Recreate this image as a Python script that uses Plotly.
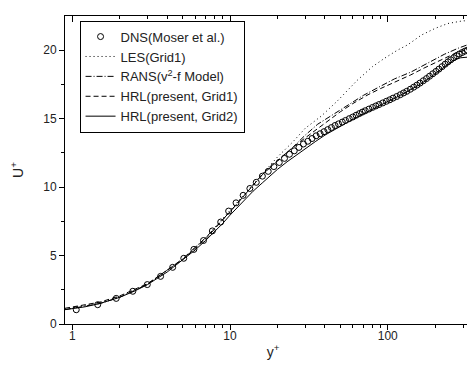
import plotly.graph_objects as go

# ---------------- data ----------------
dns_y = [1.06, 1.45, 1.90, 2.42, 2.99, 3.63, 4.33, 5.09, 5.90, 6.79, 7.73, 8.73, 9.80,
         10.92, 12.11, 13.36, 14.67, 16.04, 17.47, 18.97, 20.52, 22.14, 23.81, 25.55,
         27.35, 29.21, 31.14, 33.12, 35.16, 37.27, 39.44, 41.67, 43.96, 46.31, 48.72,
         51.5, 54, 57, 60, 63, 66, 69, 72, 76, 80, 84, 88, 93, 98, 103, 108, 114, 120,
         126, 132, 139, 146, 153, 160, 168, 176, 184, 193, 202, 211, 221, 231, 241, 251,
         262, 273, 284, 296, 308, 320, 332, 344, 356, 368, 380, 390]
dns_u = [1.04, 1.41, 1.87, 2.39, 2.88, 3.48, 4.14, 4.80, 5.45, 6.10, 6.80, 7.45, 8.25,
         8.85, 9.40, 9.90, 10.35, 10.80, 11.15, 11.50, 11.80, 12.10, 12.40, 12.65,
         12.90, 13.15, 13.35, 13.55, 13.75, 13.90, 14.05, 14.20, 14.35, 14.50, 14.62,
         14.75, 14.87, 15.00, 15.12, 15.25, 15.37, 15.48, 15.58, 15.70, 15.82, 15.93,
         16.03, 16.15, 16.27, 16.38, 16.50, 16.62, 16.75, 16.88, 17.00, 17.15, 17.30,
         17.45, 17.60, 17.77, 17.93, 18.10, 18.28, 18.45, 18.62, 18.80, 18.98, 19.15,
         19.30, 19.45, 19.60, 19.72, 19.83, 19.93, 20.01, 20.07, 20.11, 20.14, 20.16,
         20.17, 20.17]

les_y = [0.9, 1.5, 2, 3, 5, 7, 10, 13, 16, 20, 25, 30, 38, 48, 64, 80, 95, 115, 134,
         163, 200, 240, 300, 350, 390]
les_u = [1.10, 1.55, 2.00, 2.90, 4.70, 6.30, 8.30, 9.80, 11.00, 12.20, 13.30, 14.30,
         15.20, 16.30, 17.80, 18.80, 19.40, 20.00, 20.40, 21.10, 21.60, 21.95, 22.15,
         22.15, 22.10]

rans_y = [0.9, 1.5, 2, 3, 5, 7, 10, 13, 16, 20, 25, 30, 36, 45, 56, 70, 86, 110, 140,
          179, 228, 280, 330, 372, 390]
rans_u = [1.05, 1.50, 1.95, 2.90, 4.75, 6.30, 8.20, 9.75, 10.90, 11.90, 12.90, 13.80,
          14.60, 15.30, 16.00, 16.70, 17.25, 17.90, 18.40, 19.05, 19.70, 20.15, 20.45,
          20.55, 20.55]

hrl1_y = [0.9, 1.5, 2, 3, 5, 7, 10, 13, 16, 20, 25, 30, 40, 50, 60, 75, 90, 116, 140,
          170, 200, 230, 270, 310, 350, 390]
hrl1_u = [1.15, 1.60, 2.05, 2.95, 4.70, 6.20, 8.20, 9.70, 10.90, 11.95, 12.90, 13.60,
          14.70, 15.50, 16.10, 16.75, 17.20, 17.75, 18.20, 18.70, 19.10, 19.45, 19.80,
          20.00, 20.10, 20.15]

hrl2_y = [0.9, 1.2, 1.5, 2, 2.5, 3, 4, 5, 6, 7, 8, 9, 10, 12, 14, 16, 18, 20, 23, 26,
          30, 35, 40, 45, 50, 60, 70, 80, 90, 100, 120, 140, 160, 180, 200, 230, 260,
          290, 320, 350, 390]
hrl2_u = [1.05, 1.25, 1.50, 1.95, 2.42, 2.88, 3.80, 4.65, 5.40, 6.10, 6.75, 7.35, 7.95,
          8.90, 9.70, 10.30, 10.85, 11.30, 11.85, 12.30, 12.85, 13.35, 13.80, 14.15,
          14.45, 14.95, 15.35, 15.70, 16.00, 16.25, 16.70, 17.10, 17.50, 17.90, 18.30,
          18.85, 19.25, 19.45, 19.52, 19.53, 19.53]

x_major = [1, 10, 100]
x_minor = [2, 3, 4, 5, 6, 7, 8, 9, 20, 30, 40, 50, 60, 70, 80, 90, 200, 300]
y_major = [0, 5, 10, 15, 20]
y_minor = [2.5, 7.5, 12.5, 17.5]

names = ["DNS(Moser et al.)", "LES(Grid1)", "RANS(v<sup>2</sup>-f Model)",
         "HRL(present, Grid1)", "HRL(present, Grid2)"]

# ---------------- figure ----------------
FONT = "Liberation Sans, Arial, sans-serif"
fig = go.Figure()
fig.add_trace(go.Scatter(x=dns_y, y=dns_u, mode="markers", name=names[0],
                         marker=dict(symbol="circle-open", size=6, color="black",
                                     line=dict(width=1, color="black"))))
fig.add_trace(go.Scatter(x=les_y, y=les_u, mode="lines", name=names[1],
                         line=dict(color="black", width=1, dash="1px,3px")))
fig.add_trace(go.Scatter(x=rans_y, y=rans_u, mode="lines", name=names[2],
                         line=dict(color="black", width=1, dash="6px,2px,1px,2px")))
fig.add_trace(go.Scatter(x=hrl1_y, y=hrl1_u, mode="lines", name=names[3],
                         line=dict(color="black", width=1, dash="5px,3px")))
fig.add_trace(go.Scatter(x=hrl2_y, y=hrl2_u, mode="lines", name=names[4],
                         line=dict(color="black", width=1)))
# empty trace to instantiate mirrored (inside-tick) axes
fig.add_trace(go.Scatter(x=[], y=[], xaxis="x2", yaxis="y2", showlegend=False,
                         hoverinfo="skip"))

xr = [-0.046, 2.591]
yr = [0, 22.5]
common = dict(showgrid=False, zeroline=False, showline=True, linecolor="black",
              linewidth=1, tickcolor="black", tickwidth=1)
fig.update_layout(
    width=475, height=372,
    margin=dict(l=57, r=2, t=8, b=56),
    paper_bgcolor="white", plot_bgcolor="white",
    font=dict(family=FONT, size=12, color="#222"),
    showlegend=True,
    legend=dict(x=0.035, y=0.985, xanchor="left", yanchor="top",
                bgcolor="white", bordercolor="black", borderwidth=1,
                font=dict(family=FONT, size=13, color="#222"),
                tracegroupgap=0, itemwidth=30),
    xaxis=dict(type="log", range=xr, tickvals=x_major, ticktext=["1", "10", "100"],
               ticks="outside", ticklen=5, ticklabelstandoff=-4,
               minor=dict(tickvals=x_minor, ticks="outside", ticklen=3,
                          tickcolor="black"),
               title=dict(text="y<sup>+</sup>", font=dict(size=14), standoff=4),
               **common),
    yaxis=dict(range=yr, tickvals=y_major, ticks="outside", ticklen=5,
               minor=dict(tickvals=y_minor, ticks="outside", ticklen=3,
                          tickcolor="black"),
               title=dict(text="U<sup>+</sup>", font=dict(size=14), standoff=16),
               **common),
    xaxis2=dict(type="log", range=xr, overlaying="x", side="top", anchor="y",
                tickvals=x_major, showticklabels=False, ticks="inside", ticklen=6,
                minor=dict(tickvals=x_minor, ticks="inside", ticklen=3,
                           tickcolor="black"),
                **common),
    yaxis2=dict(range=yr, overlaying="y", side="right", anchor="x",
                tickvals=y_major, showticklabels=False, ticks="inside", ticklen=6,
                minor=dict(tickvals=y_minor, ticks="inside", ticklen=3,
                           tickcolor="black"),
                **common),
)

fig.write_html("out.html")
